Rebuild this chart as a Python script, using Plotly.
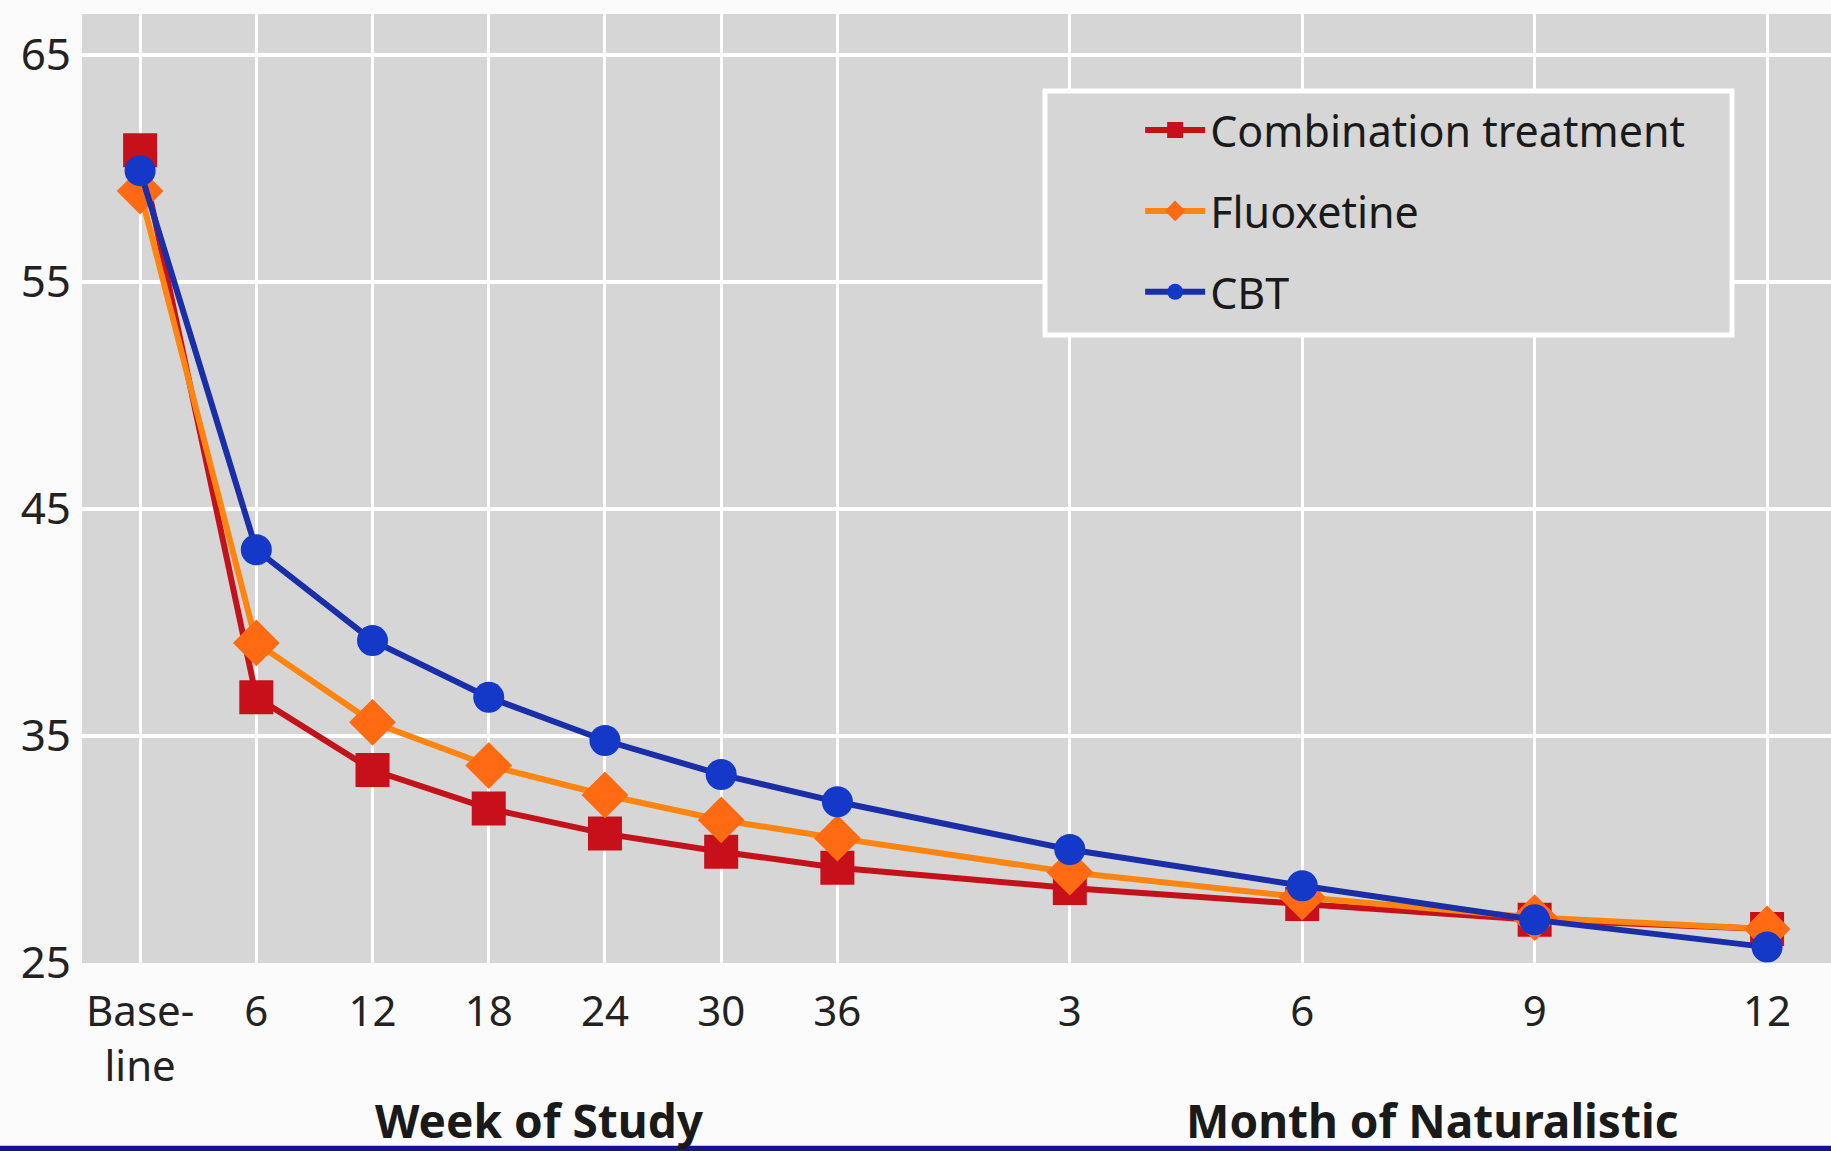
import plotly.graph_objects as go

x_pos = [0, 6, 12, 18, 24, 30, 36, 48, 60, 72, 84]
tick_labels = ["Base-<br>line", "6", "12", "18", "24", "30", "36", "3", "6", "9", "12"]

combination = [60.8, 36.7, 33.5, 31.8, 30.7, 29.9, 29.2, 28.3, 27.6, 26.9, 26.5]
fluoxetine = [59.0, 39.1, 35.6, 33.7, 32.4, 31.3, 30.5, 29.0, 27.9, 27.0, 26.5]
cbt = [59.9, 43.2, 39.2, 36.7, 34.8, 33.3, 32.1, 30.0, 28.4, 26.9, 25.7]

y_ticks = [25, 35, 45, 55, 65]

FONT = "Noto Sans"
GRAY = "#d6d6d6"

fig = go.Figure()
fig.add_trace(go.Scatter(
    x=x_pos, y=combination, name="Combination treatment", mode="lines+markers",
    line=dict(color="#c4121a", width=6),
    marker=dict(symbol="square", size=34, color="#c8101a"),
    cliponaxis=False, legendgroup="a"))
fig.add_trace(go.Scatter(
    x=x_pos, y=fluoxetine, name="Fluoxetine", mode="lines+markers",
    line=dict(color="#ff8410", width=6),
    marker=dict(symbol="diamond", size=36, color="#ff6a12"),
    cliponaxis=False, legendgroup="b"))
fig.add_trace(go.Scatter(
    x=x_pos, y=cbt, name="CBT", mode="lines+markers",
    line=dict(color="#1a2ea8", width=6),
    marker=dict(symbol="circle", size=31, color="#1438c8"),
    cliponaxis=False, legendgroup="c"))

fig.update_layout(
    width=1831, height=1151,
    margin=dict(l=82, r=0, t=14, b=188, pad=0),
    paper_bgcolor="#fbfbfb",
    plot_bgcolor=GRAY,
    font=dict(family=FONT, size=42, color="#222222"),
    showlegend=True,
    legend=dict(
        x=0.605, y=0.914, xanchor="left", yanchor="top",
        bgcolor="rgba(0,0,0,0)", borderwidth=0,
        font=dict(family=FONT, size=43, color="#1a1a1a"),
        tracegroupgap=22, itemwidth=60,
    ),
    xaxis=dict(
        range=[-3.0, 87.3], tickmode="array", tickvals=x_pos, ticktext=tick_labels,
        showgrid=True, gridcolor="#ffffff", gridwidth=3, zeroline=False,
        showline=False, ticks="", ticklabelstandoff=20,
        tickfont=dict(family=FONT, size=42, color="#222222"),
    ),
    yaxis=dict(
        range=[25, 66.8], tickmode="array", tickvals=y_ticks,
        showgrid=True, gridcolor="#ffffff", gridwidth=4, zeroline=False,
        showline=False, ticks="", ticklabelstandoff=10,
        tickfont=dict(family=FONT, size=44, color="#222222"),
    ),
    shapes=[
        dict(type="rect", xref="paper", yref="paper",
             x0=0.5506, x1=0.9434, y0=0.6617, y1=0.9189,
             fillcolor=GRAY, line=dict(color="#ffffff", width=5), layer="above"),
        dict(type="rect", xref="paper", yref="paper",
             x0=-0.1, x1=1.0, y0=-0.1925, y1=-0.2,
             fillcolor="#14148c", line=dict(width=0), layer="above"),
    ],
    annotations=[
        dict(text="<b>Week of Study</b>", xref="paper", yref="paper",
             x=(539 - 82) / 1749, y=-0.1655, xanchor="center", yanchor="middle",
             showarrow=False, font=dict(family=FONT, size=46, color="#1a1a1a")),
        dict(text="<b>Month of Naturalistic</b>", xref="paper", yref="paper",
             x=(1432 - 82) / 1749, y=-0.1655, xanchor="center", yanchor="middle",
             showarrow=False, font=dict(family=FONT, size=46, color="#1a1a1a")),
    ],
)

fig.write_html("out.html", config={"displayModeBar": False},
               post_script="document.body.style.margin='0px';")
